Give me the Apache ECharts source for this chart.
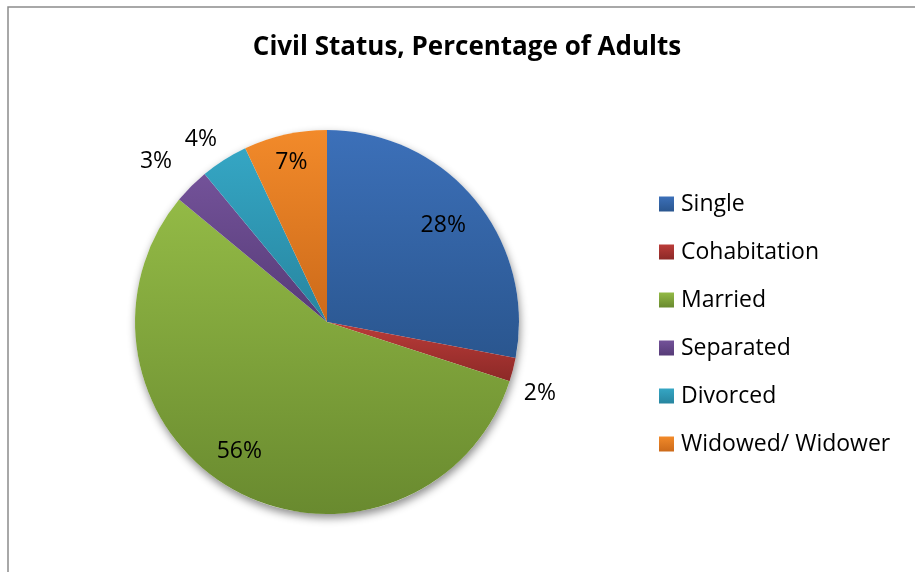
<!DOCTYPE html>
<html>
<head>
<meta charset="utf-8">
<title>Civil Status, Percentage of Adults</title>
<script src="https://cdn.jsdelivr.net/npm/echarts@6/dist/echarts.min.js"></script>
<style>
  html, body { margin: 0; padding: 0; background: #fff; }
  #chart { width: 915px; height: 572px; }
</style>
</head>
<body>
<div id="chart"></div>
<script>
// Civil status of adults, in percent
const categories = ['Single', 'Cohabitation', 'Married', 'Separated', 'Divorced', 'Widowed/ Widower'];
const shares = [28, 2, 56, 3, 4, 7];

// Vertical gradient per slice: [top, bottom]
const sliceColors = [
  ['#3c70b9', '#2a568f'],
  ['#bb3c39', '#8c2927'],
  ['#93ba46', '#698a2f'],
  ['#735299', '#563b77'],
  ['#35a6c4', '#27859f'],
  ['#f28a2a', '#cc6a1a']
];

// Label shift from the default inside position (half the radius)
const labelShift = [
  [40, -33],
  [117, 47],
  [-40, 43],
  [-101, -91],
  [-73, -99],
  [-14, -63]
];

const FONT = '"Open Sans", "DejaVu Sans", sans-serif';
const CENTER = [327, 322];
const RADIUS = 192;

function grad(c) {
  return new echarts.graphic.LinearGradient(0, 0, 0, 1, [
    { offset: 0, color: c[0] },
    { offset: 1, color: c[1] }
  ]);
}

const total = shares.reduce((a, b) => a + b, 0);

const chart = echarts.init(document.getElementById('chart'), null, { renderer: 'canvas' });

chart.setOption({
  animation: false,
  backgroundColor: '#ffffff',
  graphic: [{
    type: 'rect',
    silent: true,
    shape: { x: 8, y: 7, width: 1200, height: 1200 },
    style: { fill: 'none', stroke: '#8c8c8c', lineWidth: 1.5 }
  }],
  title: {
    text: 'Civil Status, Percentage of Adults',
    left: 467,
    textAlign: 'center',
    top: 35,
    padding: 0,
    textStyle: { fontFamily: FONT, fontWeight: 'bold', fontSize: 26, color: '#000' }
  },
  legend: {
    orient: 'vertical',
    left: 659,
    top: 192,
    padding: 0,
    itemWidth: 15,
    itemHeight: 15,
    itemGap: 24,
    icon: 'rect',
    data: categories,
    textStyle: { fontFamily: FONT, fontSize: 23, color: '#000', lineHeight: 24, padding: [0, 0, 0, 2] }
  },
  series: [
    {
      // backing disc that carries the drop shadow
      type: 'pie',
      silent: true,
      center: CENTER,
      radius: RADIUS,
      z: 1,
      label: { show: false },
      labelLine: { show: false },
      itemStyle: {
        color: '#ffffff',
        shadowBlur: 8,
        shadowOffsetY: 4,
        shadowOffsetX: 1,
        shadowColor: 'rgba(0,0,0,0.45)'
      },
      data: [{ value: total, name: '' }],
      tooltip: { show: false }
    },
    {
      type: 'pie',
      center: CENTER,
      radius: RADIUS,
      startAngle: 90,
      clockwise: true,
      z: 2,
      labelLine: { show: false },
      data: categories.map((name, i) => ({
        name: name,
        value: shares[i],
        itemStyle: { color: grad(sliceColors[i]), borderWidth: 0 },
        label: {
          show: true,
          position: 'inside',
          offset: labelShift[i],
          formatter: shares[i] + '%',
          fontFamily: FONT,
          fontSize: 23,
          color: '#000'
        }
      }))
    }
  ]
});
</script>
</body>
</html>
